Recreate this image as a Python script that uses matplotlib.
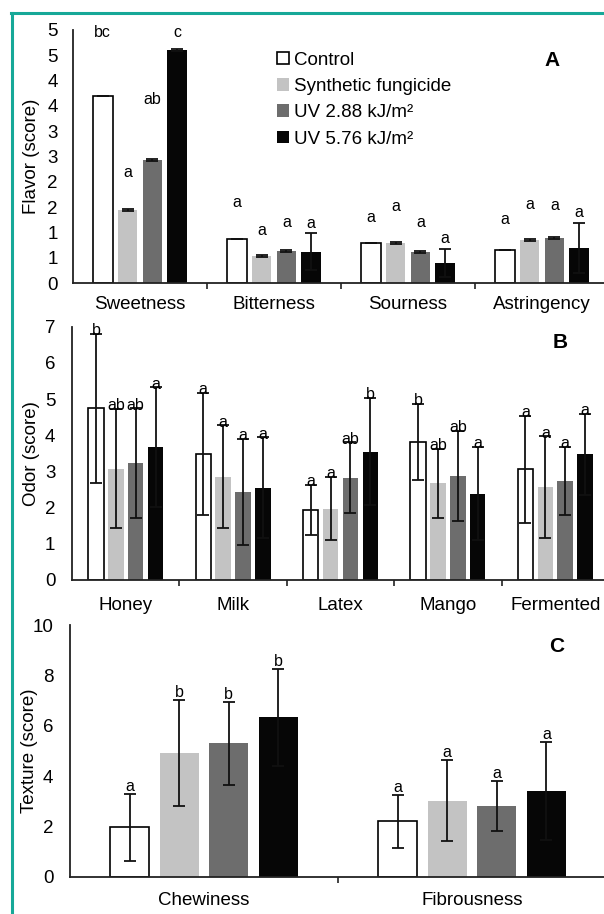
import numpy as np
import matplotlib
matplotlib.use("Agg")
import matplotlib.pyplot as plt
from matplotlib.ticker import FuncFormatter, FixedLocator
from matplotlib.lines import Line2D

plt.rcParams['font.family'] = ['Liberation Sans', 'DejaVu Sans']

# Tratamientos
tratamientos = ['Control', 'Synthetic fungicide', 'UV 2.88 kJ/m²', 'UV 5.76 kJ/m²']
colores = ['white', '#c3c3c3', '#6d6d6d', '#060606']

# Panel A - sabor
sabor_cat = ['Sweetness', 'Bitterness', 'Sourness', 'Astringency']
sabor_media = [[3.69, 0.875, 0.80, 0.66],
               [1.45, 0.545, 0.79, 0.86],
               [2.44, 0.64, 0.61, 0.89],
               [4.61, 0.625, 0.40, 0.70]]
sabor_err = [[0.0, 0.0, 0.0, 0.0],
             [0.02, 0.02, 0.02, 0.02],
             [0.02, 0.02, 0.02, 0.02],
             [0.02, 0.37, 0.27, 0.49]]
sabor_letras = [['bc', 'a', 'a', 'a'],
                ['a', 'a', 'a', 'a'],
                ['ab', 'a', 'a', 'a'],
                ['c', 'a', 'a', 'a']]
sabor_letras_y = [[4.95, 1.59, 1.29, 1.25],
                  [2.18, 1.05, 1.51, 1.55],
                  [3.62, 1.21, 1.21, 1.53],
                  [4.95, 1.19, 0.88, 1.39]]

# Panel B - olor
olor_cat = ['Honey', 'Milk', 'Latex', 'Mango', 'Fermented']
olor_media = [[4.74, 3.49, 1.93, 3.82, 3.06],
              [3.08, 2.85, 1.97, 2.67, 2.56],
              [3.22, 2.43, 2.83, 2.87, 2.73],
              [3.67, 2.55, 3.55, 2.39, 3.47]]
olor_err = [[2.05, 1.68, 0.70, 1.05, 1.48],
            [1.65, 1.42, 0.87, 0.96, 1.41],
            [1.52, 1.46, 0.97, 1.24, 0.94],
            [1.65, 1.39, 1.49, 1.29, 1.12]]
olor_letras = [['b', 'a', 'a', 'b', 'a'],
               ['ab', 'a', 'a', 'ab', 'a'],
               ['ab', 'a', 'ab', 'ab', 'a'],
               ['a', 'a', 'b', 'a', 'a']]

# Panel C - textura
textura_cat = ['Chewiness', 'Fibrousness']
textura_media = [[1.96, 2.20],
                 [4.93, 3.02],
                 [5.30, 2.80],
                 [6.33, 3.40]]
textura_err = [[1.33, 1.05],
               [2.11, 1.60],
               [1.66, 1.00],
               [1.93, 1.94]]
textura_letras = [['a', 'a'],
                  ['b', 'a'],
                  ['b', 'a'],
                  ['b', 'a']]

W, H = 604, 914
fig = plt.figure(figsize=(W / 100, H / 100), dpi=100)

paso = 0.185
ancho = 0.145


def panel(rect, cats, medias, errs, letras, ymax, ystep, ylabel, letras_y=None,
          letra_off=-2, ypad=12, xpad=11, ylab_x=-0.06):
    left, bottom, right, top = rect
    ax = fig.add_axes([left / W, 1 - bottom / H, (right - left) / W, (bottom - top) / H])
    x = np.arange(len(cats))
    barras = []
    for i in range(4):
        xi = x + (i - 1.5) * paso
        b = ax.bar(xi, medias[i], width=ancho, color=colores[i],
                   edgecolor='black' if i == 0 else colores[i],
                   linewidth=1.2 if i == 0 else 0, zorder=2, label=tratamientos[i])
        barras.append(b)
        ax.errorbar(xi, medias[i], yerr=errs[i], fmt='none', ecolor='#111111',
                    elinewidth=1.3, capsize=4, capthick=1.3, zorder=3)
        for j in range(len(cats)):
            if letras_y is not None:
                ax.text(xi[j], letras_y[i][j], letras[i][j], ha='center', va='center',
                        fontsize=11.5, zorder=4)
            else:
                ax.annotate(letras[i][j], (xi[j], medias[i][j] + errs[i][j]),
                            xytext=(0, letra_off), textcoords='offset points',
                            ha='center', va='bottom', fontsize=11.5, zorder=4)
    ax.set_xlim(-0.5, len(cats) - 0.5)
    ax.set_ylim(0, ymax)
    ax.set_xticks(x)
    ax.set_xticklabels(cats, fontsize=13.5)
    ax.xaxis.set_minor_locator(FixedLocator(np.arange(0.5, len(cats) - 0.5, 1)))
    ax.tick_params(axis='x', which='major', length=0, pad=xpad)
    ax.tick_params(axis='x', which='minor', length=4, width=1.2, color='#222222')
    ax.set_yticks(np.arange(0, ymax + 0.001, ystep))
    ax.tick_params(axis='y', length=0, pad=ypad, labelsize=13.5)
    for s in ['top', 'right']:
        ax.spines[s].set_visible(False)
    for s in ['left', 'bottom']:
        ax.spines[s].set_color('#222222')
        ax.spines[s].set_linewidth(1.3)
    ax.set_ylabel(ylabel, fontsize=13.5)
    ax.yaxis.set_label_coords(ylab_x, 0.5)
    return ax, barras


axA, barrasA = panel((73, 283.3, 609, 30), sabor_cat, sabor_media, sabor_err, sabor_letras,
                     5, 0.5, 'Flavor (score)', letras_y=sabor_letras_y, ypad=11, xpad=9,
                     ylab_x=-0.062)
axA.yaxis.set_major_formatter(FuncFormatter(lambda v, p: f"{int(np.floor(v + 0.5))}"))

axB, _ = panel((72, 580, 609, 326.7), olor_cat, olor_media, olor_err, olor_letras,
               7, 1, 'Odor (score)', letra_off=-3, xpad=12)

axC, _ = panel((70, 876.7, 606, 625), textura_cat, textura_media, textura_err, textura_letras,
               10, 2, 'Texture (score)', letra_off=0, xpad=11)

axA.legend(handles=barrasA, loc='upper left', bbox_to_anchor=(0.381, 0.915), frameon=False,
           fontsize=13.5, handlelength=0.65, handleheight=0.65, handletextpad=0.25,
           labelspacing=0.5, borderpad=0, borderaxespad=0)

for letra, (px, py) in zip(['A', 'B', 'C'], [(552, 60), (560, 342), (557, 647)]):
    fig.text(px / W, 1 - py / H, letra, ha='center', va='center', fontsize=15, fontweight='bold')

# Marco verde
verde = '#17a898'
fig.add_artist(Line2D([12 / W, 12 / W], [0, 1 - 13 / H], color=verde, lw=2.2,
                      transform=fig.transFigure))
fig.add_artist(Line2D([11 / W, 1], [1 - 13 / H, 1 - 13 / H], color=verde, lw=2.2,
                      transform=fig.transFigure))

fig.savefig('out.png', dpi=100)
